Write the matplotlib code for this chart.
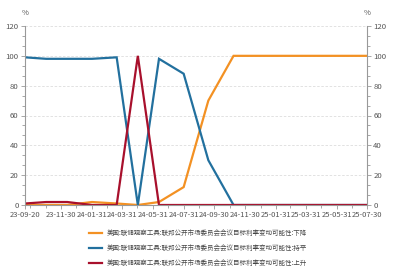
import matplotlib
matplotlib.use("Agg")
import matplotlib.pyplot as plt
import matplotlib.dates as mdates
from matplotlib.ticker import MultipleLocator
import pandas as pd

plt.rcParams['font.family'] = ['Noto Sans CJK SC', 'DejaVu Sans']

dates = ["2023-09-20", "2023-11-01", "2023-12-13", "2024-01-31", "2024-03-20",
         "2024-05-01", "2024-06-12", "2024-07-31", "2024-09-18", "2024-11-07",
         "2024-12-18", "2025-01-29", "2025-03-19", "2025-05-07", "2025-06-18",
         "2025-07-30"]
down = [0, 0, 0, 2, 1, 0, 2, 12, 70, 100, 100, 100, 100, 100, 100, 100]
hold = [99, 98, 98, 98, 99, 0, 98, 88, 30, 0, 0, 0, 0, 0, 0, 0]
up = [1, 2, 2, 0, 0, 100, 0, 0, 0, 0, 0, 0, 0, 0, 0, 0]
tick_labels = ["23-09-20", "23-11-30", "24-01-31", "24-03-31", "24-05-31", "24-07-31",
               "24-09-30", "24-11-30", "25-01-31", "25-03-31", "25-05-31", "25-07-30"]
names = ["美国:联储观察工具:联邦公开市场委员会会议目标利率变动可能性:下降",
         "美国:联储观察工具:联邦公开市场委员会会议目标利率变动可能性:持平",
         "美国:联储观察工具:联邦公开市场委员会会议目标利率变动可能性:上升"]
colors = ["#F39123", "#22709E", "#A8102C"]

x = pd.to_datetime(dates)
tick_dates = pd.to_datetime(["20" + t for t in tick_labels])

fig = plt.figure(figsize=(4.03, 2.79), dpi=100)
ax = fig.add_axes([25/403, 1 - 205/279, (367 - 25)/403, (205 - 26)/279])

lines = []
for vals, c, n in zip([down, hold, up], colors, names):
    l, = ax.plot(x, vals, color=c, lw=1.6, label=n, solid_joinstyle='miter')
    lines.append(l)

ax.set_xlim(x[0], x[-1])
ax.set_ylim(0, 120)
ax.set_xticks(tick_dates)
ax.set_xticklabels(tick_labels)
ax.xaxis.set_minor_locator(mdates.MonthLocator(bymonthday=-1))
ax.yaxis.set_major_locator(MultipleLocator(20))
ax.yaxis.set_minor_locator(MultipleLocator(20/3))
ax.grid(axis='y', which='major', color='#dddddd', ls=(0, (3, 2)), lw=0.6)
ax.set_axisbelow(True)

for s in ['top', 'right']:
    ax.spines[s].set_visible(False)
ax.spines['left'].set_color('#999999')
ax.spines['bottom'].set_color('#999999')
ax.tick_params(axis='x', which='major', labelsize=5.5)
ax.tick_params(axis='y', which='major', labelsize=5.6)
ax.tick_params(axis='both', which='major', length=3, width=0.6, color='#999999',
               labelcolor='#555555', pad=1.5)
ax.tick_params(axis='both', which='minor', length=2, width=0.6, color='#999999')

ax2 = ax.twinx()
ax2.set_ylim(0, 120)
ax2.yaxis.set_major_locator(MultipleLocator(20))
ax2.yaxis.set_minor_locator(MultipleLocator(20/3))
for s in ['top', 'left', 'bottom']:
    ax2.spines[s].set_visible(False)
ax2.spines['right'].set_color('#999999')
ax2.tick_params(axis='y', which='major', length=3, width=0.6, color='#999999',
                labelsize=5.6, labelcolor='#555555', pad=1.5)
ax2.tick_params(axis='y', which='minor', length=2, width=0.6, color='#999999')

fig.text(25/403, 1 - 13/279, "%", fontsize=5.5, color='#555555', ha='center', va='center')
fig.text(367/403, 1 - 13/279, "%", fontsize=5.5, color='#555555', ha='center', va='center')

fig.legend(handles=lines, loc='upper left', bbox_to_anchor=(86/403, 1 - 226/279),
           frameon=False, fontsize=4.7, handlelength=2.0, handletextpad=0.6,
           labelspacing=1.05, borderpad=0, labelcolor='#444444')

fig.savefig("out.png", dpi=100)
